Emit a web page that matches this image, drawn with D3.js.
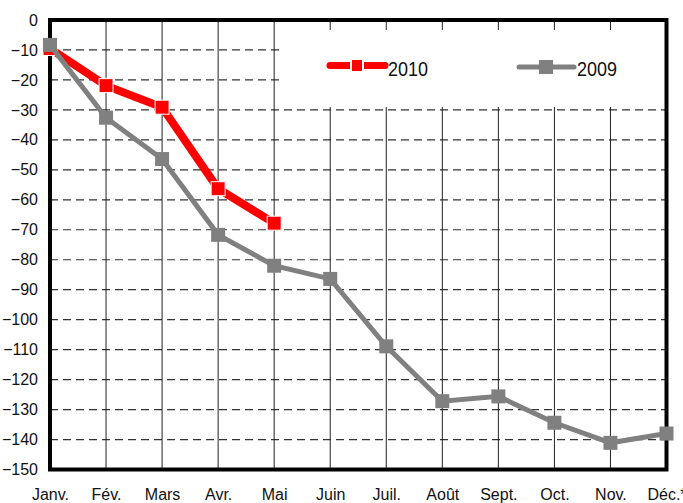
<!DOCTYPE html>
<html>
<head>
<meta charset="utf-8">
<script src="https://cdnjs.cloudflare.com/ajax/libs/d3/7.8.5/d3.min.js"></script>
<style>
html,body{margin:0;padding:0;background:#fff;}
svg{display:block;}
text{font-family:"Liberation Sans Narrow","Arial Narrow","Liberation Sans",sans-serif;}
</style>
</head>
<body>
<div id="chart"></div>
<script>
const months = ["Janv.","Fév.","Mars","Avr.","Mai","Juin","Juil.","Août","Sept.","Oct.","Nov.","Déc.*"];
const values2010 = [-9.5,-21.9,-29.1,-56.3,-67.8];
const values2009 = [-8.3,-32.6,-46.4,-71.7,-82,-86.4,-108.9,-127.2,-125.6,-134.4,-141.1,-138];
const yTicks = [0,-10,-20,-30,-40,-50,-60,-70,-80,-90,-100,-110,-120,-130,-140,-150];
const seriesNames = ["2010","2009"];

const W = 683, H = 503;
const L = 50, R = 666.5, T = 20, B = 469.5;

const svg = d3.select("#chart").append("svg").attr("width", W).attr("height", H);

const x = d3.scalePoint().domain(months).range([L, R]);
const y = d3.scaleLinear().domain([-150, 0]).range([B, T]);

// horizontal dashed grid
const gGrid = svg.append("g");
gGrid.selectAll("line.h").data(yTicks.filter(v => v !== 0 && v !== -150)).enter()
  .append("line")
  .attr("x1", L).attr("x2", R)
  .attr("y1", d => y(d)).attr("y2", d => y(d))
  .attr("stroke", "#333").attr("stroke-width", 1.2)
  .attr("stroke-dasharray", "8,5");

// vertical solid grid
gGrid.selectAll("line.v").data(months.slice(1, -1)).enter()
  .append("line")
  .attr("x1", d => x(d)).attr("x2", d => x(d))
  .attr("y1", T).attr("y2", B)
  .attr("stroke", "#222").attr("stroke-width", 1);

// legend background (blank area)
svg.append("rect").attr("x", 283).attr("y", 30).attr("width", 382).attr("height", 77).attr("fill", "#fff");

// frame
svg.append("rect").attr("x", L).attr("y", T).attr("width", R - L).attr("height", B - T)
  .attr("fill", "none").attr("stroke", "#000").attr("stroke-width", 4);

// y axis labels
const yAxis = d3.axisLeft(y).tickValues(yTicks).tickSize(0).tickPadding(12);
const gy = svg.append("g").attr("transform", `translate(${L},0)`).call(yAxis);
gy.select(".domain").remove();
gy.selectAll("text").attr("font-size", 16).attr("fill", "#111")
  .style("font-family", '"Liberation Sans Narrow","Arial Narrow",sans-serif');

// x axis labels
const xAxis = d3.axisBottom(x).tickSize(0).tickPadding(19);
const gx = svg.append("g").attr("transform", `translate(0,${B})`).call(xAxis);
gx.select(".domain").remove();
gx.selectAll("text").attr("font-size", 16).attr("fill", "#111")
  .style("font-family", '"Liberation Sans Narrow","Arial Narrow",sans-serif');

const line = d3.line().x((d, i) => x(months[i])).y(d => y(d));

// 2010 series
svg.append("path").datum(values2010).attr("d", line)
  .attr("fill", "none").attr("stroke", "#ff0000").attr("stroke-width", 8);
svg.selectAll("rect.m10").data(values2010).enter().append("rect")
  .attr("x", (d, i) => x(months[i]) - 7).attr("y", d => y(d) - 7)
  .attr("width", 14).attr("height", 14)
  .attr("fill", "#ff0000").attr("stroke", "#fff").attr("stroke-width", 1);

// 2009 series
svg.append("path").datum(values2009).attr("d", line)
  .attr("fill", "none").attr("stroke", "#808080").attr("stroke-width", 5);
svg.selectAll("rect.m09").data(values2009).enter().append("rect")
  .attr("x", (d, i) => x(months[i]) - 7).attr("y", d => y(d) - 7)
  .attr("width", 14).attr("height", 14)
  .attr("fill", "#808080");

// legend
const leg = svg.append("g");
// 2010
leg.append("line").attr("x1", 330).attr("x2", 385).attr("y1", 65.5).attr("y2", 65.5)
  .attr("stroke", "#ff0000").attr("stroke-width", 7).attr("stroke-linecap", "round");
leg.append("rect").attr("x", 351).attr("y", 59).attr("width", 12).attr("height", 13)
  .attr("fill", "#ff0000").attr("stroke", "#fff").attr("stroke-width", 2);
leg.append("text").attr("x", 388).attr("y", 76).attr("font-size", 21).attr("fill", "#111")
  .attr("textLength", 40).attr("lengthAdjust", "spacingAndGlyphs").text(seriesNames[0]);
// 2009
leg.append("line").attr("x1", 519).attr("x2", 574).attr("y1", 67).attr("y2", 67)
  .attr("stroke", "#808080").attr("stroke-width", 5).attr("stroke-linecap", "round");
leg.append("rect").attr("x", 539).attr("y", 60).attr("width", 14).attr("height", 14)
  .attr("fill", "#808080");
leg.append("text").attr("x", 577).attr("y", 76).attr("font-size", 21).attr("fill", "#111")
  .attr("textLength", 40).attr("lengthAdjust", "spacingAndGlyphs").text(seriesNames[1]);
</script>
</body>
</html>
